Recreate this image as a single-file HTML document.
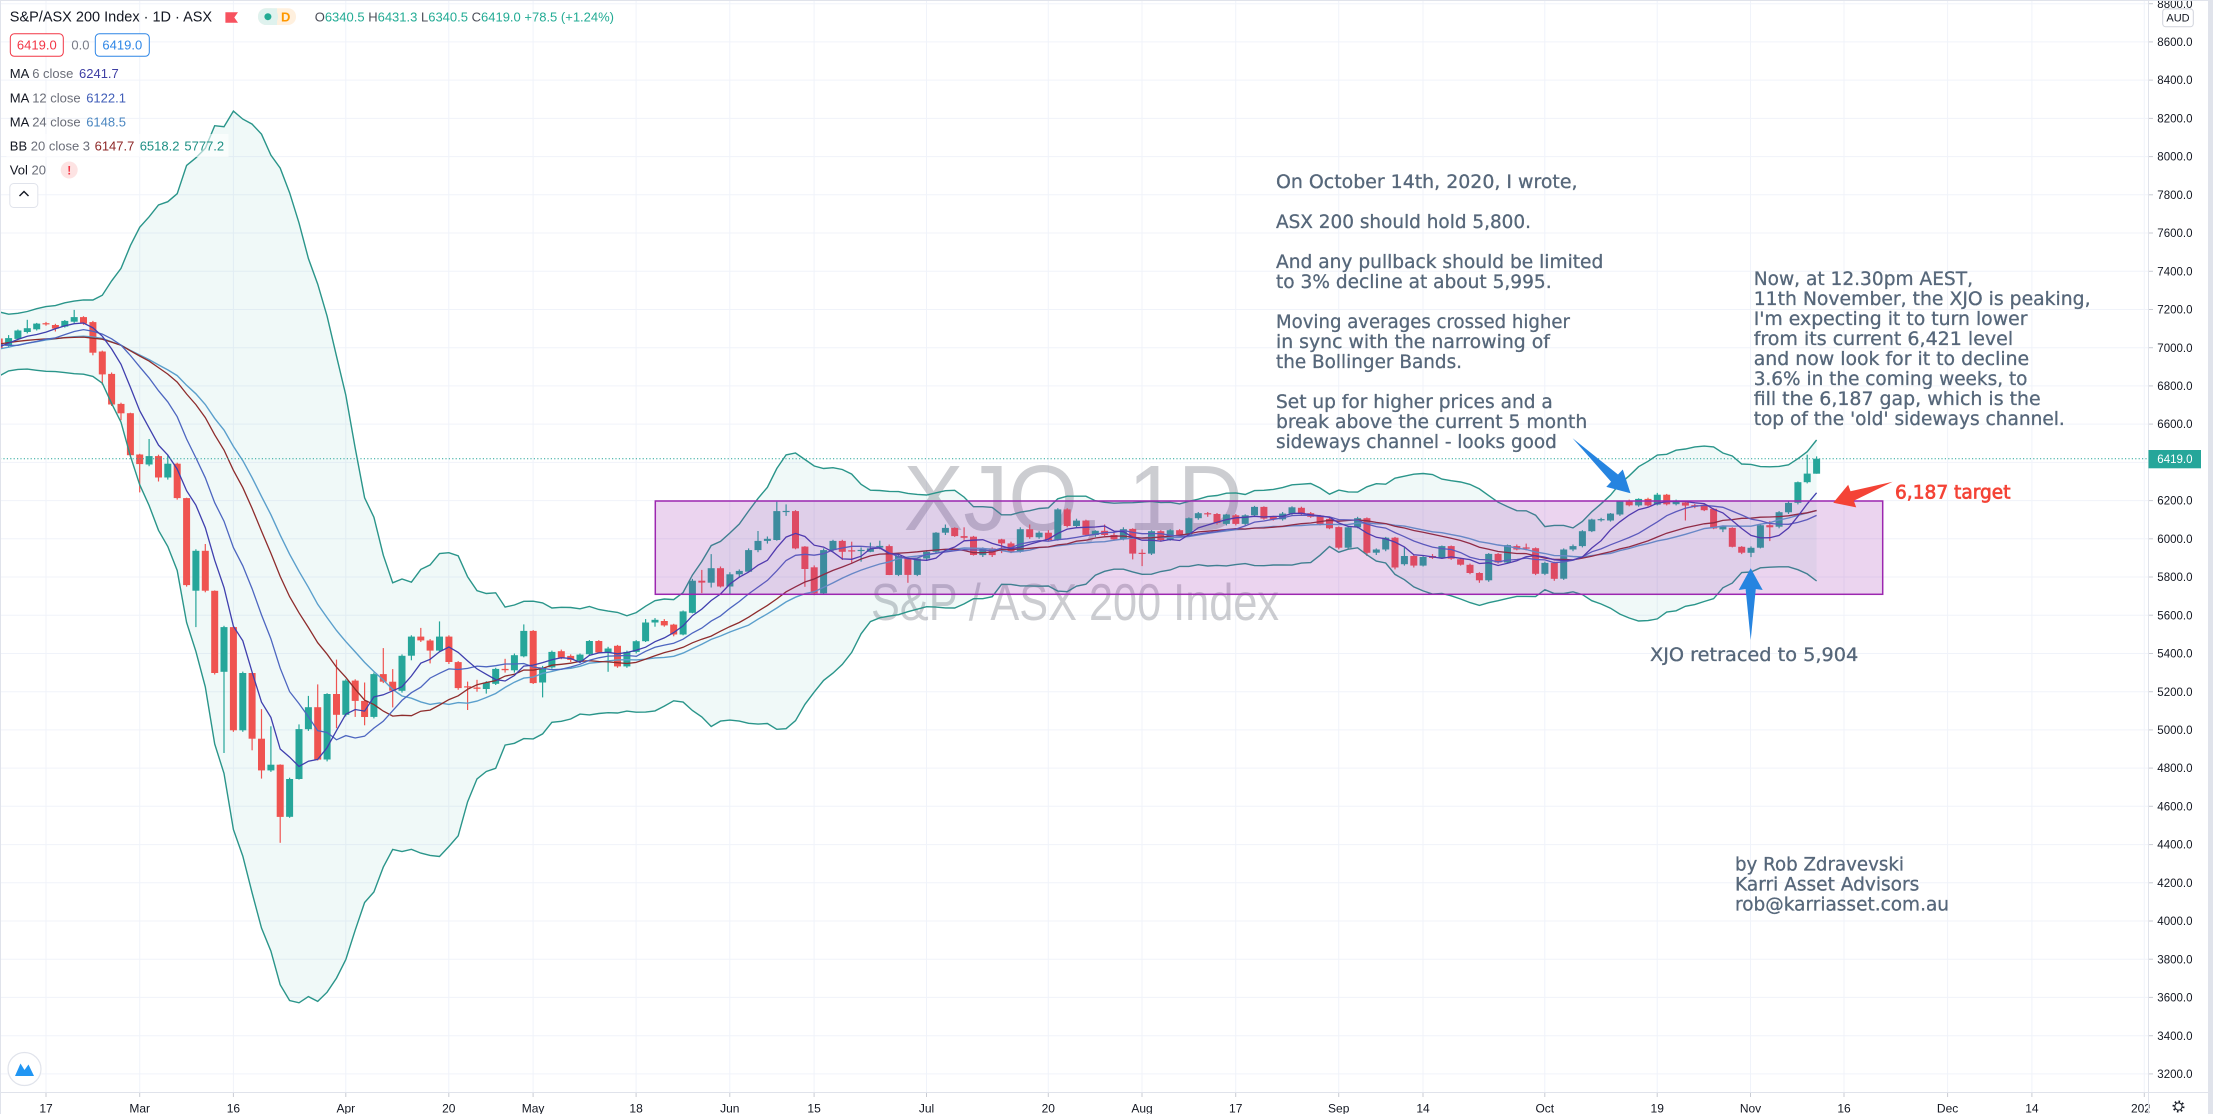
<!DOCTYPE html>
<html>
<head>
<meta charset="utf-8">
<style>
html,body{margin:0;padding:0;background:#fff;}
body{width:2213px;height:1114px;overflow:hidden;}
svg{display:block;font-family:"Liberation Sans",Arial,sans-serif;}
.ann{font-family:"DejaVu Sans","Liberation Sans",sans-serif;font-size:19px;fill:#56677a;stroke:#56677a;stroke-width:0.3;}
.pl{font-size:11.5px;fill:#131722;}
.tl{font-size:12px;fill:#131722;text-anchor:middle;}
</style>
</head>
<body>
<svg id="chart" width="2213" height="1114" viewBox="0 0 2213 1114" xmlns="http://www.w3.org/2000/svg">
<defs>
<clipPath id="pane"><rect x="0" y="0" width="2148" height="1092"/></clipPath>
</defs>
<rect x="0" y="0" width="2213" height="1114" fill="#ffffff"/>

<!-- horizontal grid -->
<g stroke="#f0f3fa" stroke-width="1">
<line x1="0" y1="3.7" x2="2148" y2="3.7"/>
<line x1="0" y1="41.9" x2="2148" y2="41.9"/>
<line x1="0" y1="80.1" x2="2148" y2="80.1"/>
<line x1="0" y1="118.4" x2="2148" y2="118.4"/>
<line x1="0" y1="156.6" x2="2148" y2="156.6"/>
<line x1="0" y1="194.8" x2="2148" y2="194.8"/>
<line x1="0" y1="233.0" x2="2148" y2="233.0"/>
<line x1="0" y1="271.3" x2="2148" y2="271.3"/>
<line x1="0" y1="309.5" x2="2148" y2="309.5"/>
<line x1="0" y1="347.7" x2="2148" y2="347.7"/>
<line x1="0" y1="385.9" x2="2148" y2="385.9"/>
<line x1="0" y1="424.1" x2="2148" y2="424.1"/>
<line x1="0" y1="462.4" x2="2148" y2="462.4"/>
<line x1="0" y1="500.6" x2="2148" y2="500.6"/>
<line x1="0" y1="538.8" x2="2148" y2="538.8"/>
<line x1="0" y1="577.0" x2="2148" y2="577.0"/>
<line x1="0" y1="615.2" x2="2148" y2="615.2"/>
<line x1="0" y1="653.5" x2="2148" y2="653.5"/>
<line x1="0" y1="691.7" x2="2148" y2="691.7"/>
<line x1="0" y1="729.9" x2="2148" y2="729.9"/>
<line x1="0" y1="768.1" x2="2148" y2="768.1"/>
<line x1="0" y1="806.3" x2="2148" y2="806.3"/>
<line x1="0" y1="844.6" x2="2148" y2="844.6"/>
<line x1="0" y1="882.8" x2="2148" y2="882.8"/>
<line x1="0" y1="921.0" x2="2148" y2="921.0"/>
<line x1="0" y1="959.2" x2="2148" y2="959.2"/>
<line x1="0" y1="997.4" x2="2148" y2="997.4"/>
<line x1="0" y1="1035.7" x2="2148" y2="1035.7"/>
<line x1="0" y1="1073.9" x2="2148" y2="1073.9"/>
</g>
<!-- vertical grid -->
<g stroke="#f0f3fa" stroke-width="1">
<line x1="46" y1="0" x2="46" y2="1092"/>
<line x1="139.7" y1="0" x2="139.7" y2="1092"/>
<line x1="233.4" y1="0" x2="233.4" y2="1092"/>
<line x1="345.8" y1="0" x2="345.8" y2="1092"/>
<line x1="448.8" y1="0" x2="448.8" y2="1092"/>
<line x1="533.1" y1="0" x2="533.1" y2="1092"/>
<line x1="636.1" y1="0" x2="636.1" y2="1092"/>
<line x1="729.8" y1="0" x2="729.8" y2="1092"/>
<line x1="814.1" y1="0" x2="814.1" y2="1092"/>
<line x1="926.5" y1="0" x2="926.5" y2="1092"/>
<line x1="1048.3" y1="0" x2="1048.3" y2="1092"/>
<line x1="1142" y1="0" x2="1142" y2="1092"/>
<line x1="1235.7" y1="0" x2="1235.7" y2="1092"/>
<line x1="1338.7" y1="0" x2="1338.7" y2="1092"/>
<line x1="1423" y1="0" x2="1423" y2="1092"/>
<line x1="1544.8" y1="0" x2="1544.8" y2="1092"/>
<line x1="1657.2" y1="0" x2="1657.2" y2="1092"/>
<line x1="1750.5" y1="0" x2="1750.5" y2="1092"/>
<line x1="1844" y1="0" x2="1844" y2="1092"/>
<line x1="1947.6" y1="0" x2="1947.6" y2="1092"/>
<line x1="2031.9" y1="0" x2="2031.9" y2="1092"/>
<line x1="2144.3" y1="0" x2="2144.3" y2="1092"/>
</g>

<!-- watermark -->
<text x="1073" y="530" font-size="93" fill="rgba(120,123,134,0.38)" text-anchor="middle" textLength="339" lengthAdjust="spacingAndGlyphs">XJO, 1D</text>
<text x="1075" y="620" font-size="52" fill="rgba(120,123,134,0.38)" text-anchor="middle" textLength="408" lengthAdjust="spacingAndGlyphs">S&amp;P / ASX 200 Index</text>

<!-- series drawn by script -->
<g id="series" clip-path="url(#pane)"></g>

<!-- sideways channel rectangle -->
<rect x="655.3" y="501" width="1227.4" height="93.3" fill="rgba(156,39,176,0.2)" stroke="#9c27b0" stroke-width="1.5"/>

<!-- price line -->
<line x1="0" y1="458.7" x2="2148" y2="458.7" stroke="#26a69a" stroke-width="1" stroke-dasharray="1.2 2.2"/>

<!-- annotations -->
<text class="ann" x="1276" y="188.2" textLength="301.5" lengthAdjust="spacingAndGlyphs">On October 14th, 2020, I wrote,</text>
<text class="ann" x="1276" y="228.2" textLength="255" lengthAdjust="spacingAndGlyphs">ASX 200 should hold 5,800.</text>
<text class="ann" x="1276" y="268.2" textLength="327.3" lengthAdjust="spacingAndGlyphs">And any pullback should be limited</text>
<text class="ann" x="1276" y="288.2" textLength="275.6" lengthAdjust="spacingAndGlyphs">to 3% decline at about 5,995.</text>
<text class="ann" x="1276" y="328.2" textLength="294" lengthAdjust="spacingAndGlyphs">Moving averages crossed higher</text>
<text class="ann" x="1276" y="348.2" textLength="273.9" lengthAdjust="spacingAndGlyphs">in sync with the narrowing of</text>
<text class="ann" x="1276" y="368.2" textLength="186" lengthAdjust="spacingAndGlyphs">the Bollinger Bands.</text>
<text class="ann" x="1276" y="408.2" textLength="276.8" lengthAdjust="spacingAndGlyphs">Set up for higher prices and a</text>
<text class="ann" x="1276" y="428.2" textLength="311.2" lengthAdjust="spacingAndGlyphs">break above the current 5 month</text>
<text class="ann" x="1276" y="448.2" textLength="280.8" lengthAdjust="spacingAndGlyphs">sideways channel - looks good</text>

<text class="ann" x="1753.7" y="284.8" textLength="219.3" lengthAdjust="spacingAndGlyphs">Now, at 12.30pm AEST,</text>
<text class="ann" x="1753.7" y="304.8" textLength="336.9" lengthAdjust="spacingAndGlyphs">11th November, the XJO is peaking,</text>
<text class="ann" x="1753.7" y="324.8" textLength="273.8" lengthAdjust="spacingAndGlyphs">I'm expecting it to turn lower</text>
<text class="ann" x="1753.7" y="344.8" textLength="259.5" lengthAdjust="spacingAndGlyphs">from its current 6,421 level</text>
<text class="ann" x="1753.7" y="364.8" textLength="275.5" lengthAdjust="spacingAndGlyphs">and now look for it to decline</text>
<text class="ann" x="1753.7" y="384.8" textLength="273.8" lengthAdjust="spacingAndGlyphs">3.6% in the coming weeks, to</text>
<text class="ann" x="1753.7" y="404.8" textLength="287" lengthAdjust="spacingAndGlyphs">fill the 6,187 gap, which is the</text>
<text class="ann" x="1753.7" y="424.8" textLength="311.1" lengthAdjust="spacingAndGlyphs">top of the 'old' sideways channel.</text>

<text class="ann" x="1650" y="661" textLength="208.3" lengthAdjust="spacingAndGlyphs">XJO retraced to 5,904</text>
<text class="ann" x="1735" y="870.6" textLength="169" lengthAdjust="spacingAndGlyphs">by Rob Zdravevski</text>
<text class="ann" x="1735" y="890.6" textLength="184.3" lengthAdjust="spacingAndGlyphs">Karri Asset Advisors</text>
<text class="ann" x="1735" y="910.6" textLength="214" lengthAdjust="spacingAndGlyphs">rob@karriasset.com.au</text>
<text class="ann" x="1895" y="498.5" textLength="115.5" lengthAdjust="spacingAndGlyphs" style="fill:#f44336;stroke:#f44336;stroke-width:0.7">6,187 target</text>

<!-- arrows -->
<polygon points="1572.6,438.3 1611.1,481.8 1606.3,486.9 1630.5,493.3 1622.8,469.5 1618.0,474.5" fill="#2684e0"/>
<polygon points="1750.7,640 1745.6,589 1738.7,590 1750.7,568.3 1762.7,590 1755.8,589" fill="#2684e0"/>
<polygon points="1892.7,481.7 1850.5,491.3 1848.2,484.7 1833.3,502.7 1856.2,507.4 1853.8,500.8" fill="#f44336"/>

<!-- legend -->
<text x="9.8" y="21.6" font-size="14.5" fill="#131722">S&amp;P/ASX 200 Index · 1D · ASX</text>
<polygon points="225.4,12.3 238,12.3 234.3,17.5 238,22.7 225.4,22.7" fill="#f7525f"/>
<rect x="258" y="8.3" width="38" height="16.7" rx="8" fill="#fff0de"/>
<rect x="258" y="8.3" width="20" height="16.7" rx="8" fill="#dff2ee"/>
<rect x="270" y="8.3" width="7" height="16.7" fill="#dff2ee"/>
<circle cx="267.9" cy="16.7" r="3.5" fill="#22ab94"/>
<text x="285.7" y="21.3" font-size="13" fill="#ff9800" text-anchor="middle" font-weight="bold">D</text>
<text x="314.7" y="21.3" font-size="13"><tspan fill="#4a4d57">O</tspan><tspan fill="#22ab94">6340.5</tspan> <tspan fill="#4a4d57">H</tspan><tspan fill="#22ab94">6431.3</tspan> <tspan fill="#4a4d57">L</tspan><tspan fill="#22ab94">6340.5</tspan> <tspan fill="#4a4d57">C</tspan><tspan fill="#22ab94">6419.0</tspan> <tspan fill="#22ab94">+78.5 (+1.24%)</tspan></text>

<rect x="10.3" y="33.8" width="53" height="22.5" rx="4" fill="#fff" stroke="#f23645" stroke-width="1"/>
<text x="36.8" y="49.6" font-size="13" fill="#f23645" text-anchor="middle">6419.0</text>
<text x="71.4" y="49.6" font-size="13" fill="#787b86">0.0</text>
<rect x="95.3" y="33.8" width="54" height="22.5" rx="4" fill="#fff" stroke="#2e86e6" stroke-width="1"/>
<text x="122.3" y="49.6" font-size="13" fill="#2e86e6" text-anchor="middle">6419.0</text>

<text x="9.8" y="77.9" font-size="13" fill="#131722">MA <tspan fill="#6a6d78">6 close</tspan></text>
<text x="79" y="77.9" font-size="13" fill="#3e3ea3">6241.7</text>
<text x="9.8" y="102.3" font-size="13" fill="#131722">MA <tspan fill="#6a6d78">12 close</tspan></text>
<text x="86.2" y="102.3" font-size="13" fill="#3f5db8">6122.1</text>
<text x="9.8" y="126.3" font-size="13" fill="#131722">MA <tspan fill="#6a6d78">24 close</tspan></text>
<text x="86.2" y="126.3" font-size="13" fill="#4a86c0">6148.5</text>
<rect x="6.5" y="134" width="222" height="23" fill="rgba(255,255,255,0.6)"/>
<text x="9.8" y="150.3" font-size="13" fill="#131722">BB <tspan fill="#6a6d78">20 close 3</tspan></text>
<text x="94.6" y="150.3" font-size="13" fill="#8d2626">6147.7</text>
<text x="139.7" y="150.3" font-size="13" fill="#1d8f84">6518.2</text>
<text x="184.4" y="150.3" font-size="13" fill="#1d8f84">5777.2</text>
<text x="9.8" y="174.6" font-size="13" fill="#131722">Vol <tspan fill="#6a6d78">20</tspan></text>
<circle cx="69.2" cy="170" r="8.5" fill="#fde3e3"/>
<text x="69.2" y="174.6" font-size="12" fill="#f23645" text-anchor="middle" font-weight="bold">!</text>
<rect x="9.8" y="183.5" width="28" height="24" rx="4" fill="#fff" stroke="#e0e3eb"/>
<path d="M19.5 196 L24 191.5 L28.5 196" fill="none" stroke="#131722" stroke-width="1.4"/>

<!-- TV logo -->
<circle cx="24.5" cy="1069" r="16.5" fill="#fff" stroke="#e0e3eb" stroke-width="1.2"/>
<path d="M15 1076 L20.5 1063.5 L24.5 1070 L28.5 1064.5 L34 1076 Z" fill="#2196f3"/>

<!-- price axis -->
<rect x="2149" y="0" width="64" height="1114" fill="#ffffff"/>
<line x1="2148.5" y1="0" x2="2148.5" y2="1114" stroke="#e0e3eb" stroke-width="1"/>
<g stroke="#c8cbd3" stroke-width="1">
<line x1="2149" y1="3.7" x2="2153" y2="3.7"/><line x1="2149" y1="41.9" x2="2153" y2="41.9"/><line x1="2149" y1="80.1" x2="2153" y2="80.1"/><line x1="2149" y1="118.4" x2="2153" y2="118.4"/><line x1="2149" y1="156.6" x2="2153" y2="156.6"/><line x1="2149" y1="194.8" x2="2153" y2="194.8"/><line x1="2149" y1="233.0" x2="2153" y2="233.0"/><line x1="2149" y1="271.3" x2="2153" y2="271.3"/><line x1="2149" y1="309.5" x2="2153" y2="309.5"/><line x1="2149" y1="347.7" x2="2153" y2="347.7"/><line x1="2149" y1="385.9" x2="2153" y2="385.9"/><line x1="2149" y1="424.1" x2="2153" y2="424.1"/><line x1="2149" y1="500.6" x2="2153" y2="500.6"/><line x1="2149" y1="538.8" x2="2153" y2="538.8"/><line x1="2149" y1="577.0" x2="2153" y2="577.0"/><line x1="2149" y1="615.2" x2="2153" y2="615.2"/><line x1="2149" y1="653.5" x2="2153" y2="653.5"/><line x1="2149" y1="691.7" x2="2153" y2="691.7"/><line x1="2149" y1="729.9" x2="2153" y2="729.9"/><line x1="2149" y1="768.1" x2="2153" y2="768.1"/><line x1="2149" y1="806.3" x2="2153" y2="806.3"/><line x1="2149" y1="844.6" x2="2153" y2="844.6"/><line x1="2149" y1="882.8" x2="2153" y2="882.8"/><line x1="2149" y1="921.0" x2="2153" y2="921.0"/><line x1="2149" y1="959.2" x2="2153" y2="959.2"/><line x1="2149" y1="997.4" x2="2153" y2="997.4"/><line x1="2149" y1="1035.7" x2="2153" y2="1035.7"/><line x1="2149" y1="1073.9" x2="2153" y2="1073.9"/>
</g>
<text class="pl" x="2157.3" y="7.8">8800.0</text>
<text class="pl" x="2157.3" y="46">8600.0</text>
<text class="pl" x="2157.3" y="84.2">8400.0</text>
<text class="pl" x="2157.3" y="122.5">8200.0</text>
<text class="pl" x="2157.3" y="160.7">8000.0</text>
<text class="pl" x="2157.3" y="198.9">7800.0</text>
<text class="pl" x="2157.3" y="237.1">7600.0</text>
<text class="pl" x="2157.3" y="275.4">7400.0</text>
<text class="pl" x="2157.3" y="313.6">7200.0</text>
<text class="pl" x="2157.3" y="351.8">7000.0</text>
<text class="pl" x="2157.3" y="390">6800.0</text>
<text class="pl" x="2157.3" y="428.2">6600.0</text>
<text class="pl" x="2157.3" y="504.7">6200.0</text>
<text class="pl" x="2157.3" y="542.9">6000.0</text>
<text class="pl" x="2157.3" y="581.1">5800.0</text>
<text class="pl" x="2157.3" y="619.3">5600.0</text>
<text class="pl" x="2157.3" y="657.6">5400.0</text>
<text class="pl" x="2157.3" y="695.8">5200.0</text>
<text class="pl" x="2157.3" y="734">5000.0</text>
<text class="pl" x="2157.3" y="772.2">4800.0</text>
<text class="pl" x="2157.3" y="810.4">4600.0</text>
<text class="pl" x="2157.3" y="848.7">4400.0</text>
<text class="pl" x="2157.3" y="886.9">4200.0</text>
<text class="pl" x="2157.3" y="925.1">4000.0</text>
<text class="pl" x="2157.3" y="963.3">3800.0</text>
<text class="pl" x="2157.3" y="1001.5">3600.0</text>
<text class="pl" x="2157.3" y="1039.8">3400.0</text>
<text class="pl" x="2157.3" y="1078">3200.0</text>
<rect x="2162.7" y="8.9" width="30.6" height="17.9" rx="3" fill="#fff" stroke="#d1d4dc" stroke-width="1"/>
<text x="2178" y="21.6" font-size="11" fill="#131722" text-anchor="middle">AUD</text>
<rect x="2148.5" y="450" width="52.5" height="18.3" fill="#26a69a"/>
<text x="2157.3" y="463" font-size="11.5" fill="#ffffff">6419.0</text>

<!-- time axis -->
<rect x="0" y="1092.5" width="2148" height="21.5" fill="#ffffff"/>
<line x1="0" y1="1092.5" x2="2208" y2="1092.5" stroke="#e0e3eb" stroke-width="1"/>
<g stroke="#c8cbd3" stroke-width="1">
<line x1="46" y1="1093" x2="46" y2="1097"/><line x1="139.7" y1="1093" x2="139.7" y2="1097"/><line x1="233.4" y1="1093" x2="233.4" y2="1097"/><line x1="345.8" y1="1093" x2="345.8" y2="1097"/><line x1="448.8" y1="1093" x2="448.8" y2="1097"/><line x1="533.1" y1="1093" x2="533.1" y2="1097"/><line x1="636.1" y1="1093" x2="636.1" y2="1097"/><line x1="729.8" y1="1093" x2="729.8" y2="1097"/><line x1="814.1" y1="1093" x2="814.1" y2="1097"/><line x1="926.5" y1="1093" x2="926.5" y2="1097"/><line x1="1048.3" y1="1093" x2="1048.3" y2="1097"/><line x1="1142" y1="1093" x2="1142" y2="1097"/><line x1="1235.7" y1="1093" x2="1235.7" y2="1097"/><line x1="1338.7" y1="1093" x2="1338.7" y2="1097"/><line x1="1423" y1="1093" x2="1423" y2="1097"/><line x1="1544.8" y1="1093" x2="1544.8" y2="1097"/><line x1="1657.2" y1="1093" x2="1657.2" y2="1097"/><line x1="1750.5" y1="1093" x2="1750.5" y2="1097"/><line x1="1844" y1="1093" x2="1844" y2="1097"/><line x1="1947.6" y1="1093" x2="1947.6" y2="1097"/><line x1="2031.9" y1="1093" x2="2031.9" y2="1097"/><line x1="2144.3" y1="1093" x2="2144.3" y2="1097"/>
</g>
<text class="tl" x="46" y="1112.5">17</text>
<text class="tl" x="139.7" y="1112.5">Mar</text>
<text class="tl" x="233.4" y="1112.5">16</text>
<text class="tl" x="345.8" y="1112.5">Apr</text>
<text class="tl" x="448.8" y="1112.5">20</text>
<text class="tl" x="533.1" y="1112.5">May</text>
<text class="tl" x="636.1" y="1112.5">18</text>
<text class="tl" x="729.8" y="1112.5">Jun</text>
<text class="tl" x="814.1" y="1112.5">15</text>
<text class="tl" x="926.5" y="1112.5">Jul</text>
<text class="tl" x="1048.3" y="1112.5">20</text>
<text class="tl" x="1142" y="1112.5">Aug</text>
<text class="tl" x="1235.7" y="1112.5">17</text>
<text class="tl" x="1338.7" y="1112.5">Sep</text>
<text class="tl" x="1423" y="1112.5">14</text>
<text class="tl" x="1544.8" y="1112.5">Oct</text>
<text class="tl" x="1657.2" y="1112.5">19</text>
<text class="tl" x="1750.5" y="1112.5">Nov</text>
<text class="tl" x="1844" y="1112.5">16</text>
<text class="tl" x="1947.6" y="1112.5">Dec</text>
<text class="tl" x="2031.9" y="1112.5">14</text>
<text class="tl" x="2144.3" y="1112.5">2021</text>
<rect x="2149.5" y="1093" width="58.5" height="21" fill="#ffffff"/>
<line x1="2148.5" y1="1092" x2="2148.5" y2="1114" stroke="#e0e3eb" stroke-width="1"/>
<circle cx="2178.5" cy="1106.5" r="5" fill="none" stroke="#131722" stroke-width="2" stroke-dasharray="1.6 2.3"/>
<circle cx="2178.5" cy="1106.5" r="3.6" fill="#fff" stroke="#131722" stroke-width="1"/>

<!-- frame -->
<line x1="0" y1="0.5" x2="2213" y2="0.5" stroke="#e0e3eb" stroke-width="1"/>
<line x1="0.5" y1="0" x2="0.5" y2="1114" stroke="#e0e3eb" stroke-width="1"/>
<rect x="2208" y="0" width="5" height="1114" fill="#e0e3eb"/>
</svg>

<script>
(function(){
var pre=[6735,6733,6735,6826,6818,6874,6929,6903,6962,6994,7041,7065,7067,7046,7127,7091,7090,6969,7007,6988,7017,6934,6968,7004,7072,7048,6998];
var M="7010,7066,7000,7050 7046,7095,7040,7090 7082,7146,7075,7102 7096,7130,7090,7126 "+
"7128,7135,7115,7125 7119,7125,7085,7100 7110,7145,7105,7140 7136,7198,7130,7160 7160,7165,7120,7126 "+
"7134,7140,6960,6974 6980,6985,6806,6860 6863,6870,6695,6703 6706,6712,6620,6657 6657,6660,6430,6437 "+
"6441,6445,6243,6391 6389,6522,6380,6433 6433,6440,6300,6321 6321,6440,6310,6393 6393,6398,6205,6213 "+
"6213,6215,5750,5758 5728,5945,5538,5937 5937,5973,5720,5728 5728,5730,5290,5298 5304,5545,4879,5538 "+
"5538,5540,4990,4998 4998,5305,4990,5298 5298,5300,4893,4954 4954,5109,4745,4788 4788,5019,4780,4818 "+
"4818,4820,4409,4545 4545,4750,4540,4743 4743,5029,4740,5004 5004,5178,4995,5119 5119,5238,4840,4845 "+
"4845,5192,4835,5188 5188,5368,5009,5079 "+
"5079,5265,5070,5258 5258,5265,5068,5152 5152,5248,5024,5068 "+
"5068,5300,5060,5292 5292,5428,5245,5252 5252,5318,5118,5205 5205,5395,5195,5388 "+
"5388,5495,5364,5488 5488,5534,5460,5468 5468,5475,5348,5415 5415,5568,5410,5488 "+
"5488,5495,5345,5355 5355,5360,5210,5219 5228,5253,5104,5222 5222,5262,5200,5215 5214,5255,5190,5248 "+
"5241,5325,5235,5319 5319,5372,5300,5312 5312,5400,5300,5391 5385,5552,5380,5518 "+
"5518,5522,5240,5245 "+
"5248,5335,5170,5327 5327,5415,5320,5408 5412,5420,5370,5379 5387,5395,5355,5366 5361,5400,5355,5394 "+
"5396,5470,5390,5465 5465,5470,5400,5405 5405,5435,5304,5426 5440,5445,5325,5332 5332,5415,5325,5408 "+
"5408,5470,5400,5464 5464,5580,5460,5562 5562,5585,5540,5576 5570,5580,5540,5547 5551,5555,5490,5499 "+
"5499,5625,5495,5620 5613,5790,5610,5781 5781,5837,5716,5771 5770,5920,5745,5846 5846,5855,5745,5750 "+
"5750,5825,5706,5814 5814,5840,5800,5832 5828,5950,5825,5941 5941,6041,5930,5989 5989,6012,5975,6000 "+
"5994,6194,5990,6145 6145,6180,6120,6146 6145,6150,5945,5950 5959,5962,5749,5842 "+
"5851,5861,5705,5715 5715,5950,5710,5941 5941,5995,5935,5989 5989,5995,5889,5932 5940,5985,5875,5936 "+
"5941,5955,5880,5942 5932,5980,5930,5950 5954,5990,5945,5963 5962,5970,5810,5811 5811,5915,5805,5910 "+
"5900,5905,5770,5811 5811,5900,5805,5897 "+
"5897,5940,5885,5932 5932,6035,5925,6032 6032,6075,6020,6057 "+
"6057,6060,6010,6014 6014,6060,5995,6005 6011,6015,5912,5915 5915,5955,5905,5950 5950,5955,5905,5915 "+
"5997,6000,5925,5976 5976,5985,5925,5932 5932,6060,5928,6050 6050,6075,6000,6008 6008,6040,6000,6032 "+
"6032,6045,5990,5994 5994,6160,5990,6154 6154,6160,6060,6067 6067,6105,6060,6095 6095,6100,6015,6020 "+
"6020,6045,6010,6042 6042,6075,6015,6020 6020,6035,5990,5997 5997,6060,5992,6050 6052,6055,5892,5923 "+
"5927,5945,5857,5925 5923,6045,5915,6040 6040,6045,5985,5994 5996,6050,5990,6045 6045,6050,6015,6021 "+
"6021,6112,6015,6108 6108,6140,6100,6134 6134,6140,6115,6130 6130,6135,6075,6083 6078,6130,6070,6127 "+
"6123,6130,6070,6078 6078,6128,6070,6123 6123,6172,6115,6167 6167,6170,6100,6106 6115,6120,6095,6102 "+
"6102,6140,6095,6132 6132,6170,6125,6165 6162,6168,6125,6132 6134,6140,6110,6115 6122,6125,6070,6075 "+
"6104,6110,6050,6055 "+
"6061,6065,5945,5953 5953,6065,5945,6060 6060,6115,6055,6108 6108,6112,5910,5927 "+
"5927,5950,5915,5944 5944,6010,5935,6006 6006,6010,5840,5850 5867,5955,5860,5910 5910,5915,5850,5860 "+
"5860,5910,5855,5905 5910,5920,5895,5900 5900,5965,5895,5962 5962,5965,5890,5896 5893,5900,5860,5864 "+
"5864,5870,5815,5821 5821,5825,5770,5783 5783,5925,5775,5921 5921,5925,5870,5876 5876,5970,5870,5967 "+
"5962,5970,5940,5944 5955,5975,5940,5948 5951,5955,5810,5817 "+
"5817,5880,5810,5874 5874,5880,5780,5791 "+
"5791,5950,5785,5944 5944,5970,5935,5962 5962,6045,5955,6040 6040,6105,6035,6101 6101,6110,6090,6103 "+
"6096,6135,6090,6132 6127,6200,6120,6196 6196,6205,6170,6175 6175,6212,6168,6209 6209,6215,6170,6175 "+
"6179,6240,6175,6231 6231,6235,6175,6181 6181,6205,6175,6201 6190,6195,6096,6174 6176,6182,6160,6168 "+
"6178,6185,6145,6150 6157,6160,6050,6054 6049,6070,6035,6066 6057,6060,5955,5958 5958,5962,5920,5927 "+
"5927,5960,5904,5953 5953,6075,5950,6071 6071,6092,5988,6060 6063,6145,6055,6139 6139,6195,6130,6188 "+
"6188,6300,6180,6296 6296,6440,6290,6341 6340.5,6431.3,6340.5,6419";
var bars=[],prev=6720,i,k;
for(i=0;i<pre.length;i++){var c0=pre[i],o0=prev;bars.push([o0,Math.max(o0,c0)+12,Math.min(o0,c0)-12,c0]);prev=c0;}
M.trim().split(/\s+/).forEach(function(s){bars.push(s.split(',').map(Number));});
var N=bars.length;
function X(j){return 1816.6-(N-1-j)*9.368;}
function Y(p){return 538.8-(p-6000)*0.1911;}
function sma(n,j){if(j<n-1)return null;var s=0;for(var q=j-n+1;q<=j;q++)s+=bars[q][3];return s/n;}
function maLine(n){var pts=[];for(var j=n-1;j<N;j++){pts.push(X(j).toFixed(1)+','+Y(sma(n,j)).toFixed(1));}return pts.join(' ');}
var up=[],lo=[],mid=[];
for(i=19;i<N;i++){var m=sma(20,i),v=0;for(k=i-19;k<=i;k++){var d=bars[k][3]-m;v+=d*d;}var sd=Math.sqrt(v/20);
 var xs=X(i).toFixed(1);up.push(xs+','+Y(m+3*sd).toFixed(1));lo.push(xs+','+Y(m-3*sd).toFixed(1));mid.push(xs+','+Y(m).toFixed(1));}
var h='';
h+='<polygon points="'+up.join(' ')+' '+lo.slice().reverse().join(' ')+'" fill="rgba(38,166,154,0.07)"/>';
for(i=0;i<N;i++){
 var b=bars[i],x=X(i);if(x<-10)continue;
 var o=b[0],hi=b[1],l=b[2],c=b[3];var col=c>=o?'#26a69a':'#ef5350';
 h+='<line x1="'+x.toFixed(1)+'" y1="'+Y(hi).toFixed(1)+'" x2="'+x.toFixed(1)+'" y2="'+Y(l).toFixed(1)+'" stroke="'+col+'" stroke-width="1.2"/>';
 var t=Y(Math.max(o,c)),bt=Y(Math.min(o,c));if(bt-t<1.2)bt=t+1.2;
 h+='<rect x="'+(x-3.5).toFixed(1)+'" y="'+t.toFixed(1)+'" width="7" height="'+(bt-t).toFixed(1)+'" fill="'+col+'"/>';
}
h+='<polyline points="'+up.join(' ')+'" fill="none" stroke="#2a958a" stroke-width="1.4"/>';
h+='<polyline points="'+lo.join(' ')+'" fill="none" stroke="#2a958a" stroke-width="1.4"/>';
h+='<polyline points="'+maLine(24)+'" fill="none" stroke="#5b9fcc" stroke-width="1.4"/>';
h+='<polyline points="'+mid.join(' ')+'" fill="none" stroke="#8e2c2c" stroke-width="1.3"/>';
h+='<polyline points="'+maLine(12)+'" fill="none" stroke="#4d66c0" stroke-width="1.3"/>';
h+='<polyline points="'+maLine(6)+'" fill="none" stroke="#3f3fae" stroke-width="1.3"/>';
document.getElementById('series').innerHTML=h;
})();
</script>
</body>
</html>
